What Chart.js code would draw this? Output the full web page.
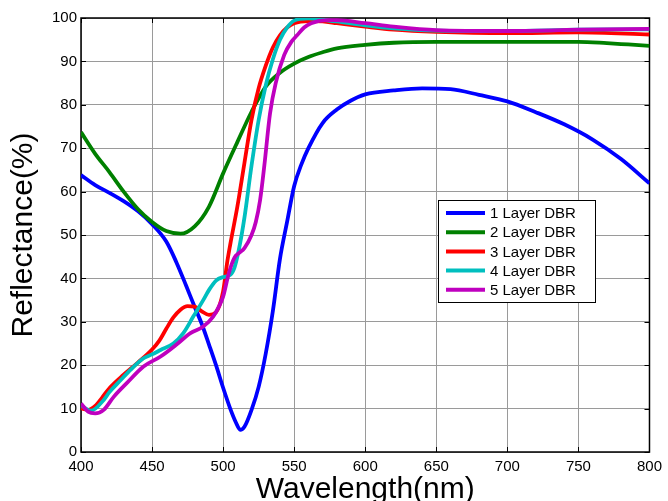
<!DOCTYPE html>
<html>
<head>
    <title>DBR Reflectance</title>
    <meta charset="utf-8">
    <script src="https://cdn.jsdelivr.net/npm/chart.js"></script>
    <style>
        html, body { margin: 0; padding: 0; background: #fff; }
        #box { width: 668px; height: 501px; }
    </style>
</head>
<body>
    <div id="box"><canvas id="dbrChart"></canvas></div>
    <script>
        // wavelength (nm) / reflectance (%)
        var wl1 = [400, 410, 420, 430, 440, 450, 460, 467, 474, 480, 485, 490, 495, 500, 505, 509, 512, 515, 520, 525, 530, 535, 540, 545, 550, 555, 560, 570, 580, 590, 600, 620, 640, 660, 680, 700, 720, 740, 760, 780, 800]
        var r1 = [63.8, 61.5, 59.7, 57.8, 55.5, 52.5, 48.5, 43.8, 38.3, 33.4, 29.5, 24.8, 20, 14.8, 10, 6.8, 5.1, 5.8, 9.7, 15, 22.7, 32.5, 44.5, 53, 61.3, 66.2, 70, 75.8, 78.9, 81, 82.4, 83.3, 83.8, 83.6, 82.3, 80.8, 78.3, 75.5, 72, 67.5, 61.9]

        var wl2 = [400, 410, 420, 430, 440, 450, 460, 470, 480, 490, 500, 510, 520, 530, 540, 550, 560, 570, 580, 600, 620, 650, 700, 750, 770, 785, 800]
        var r2 = [73.7, 68.7, 64.5, 60, 56, 53, 50.9, 50.3, 52, 56.5, 64.2, 71.4, 78.4, 84.2, 87.4, 89.5, 91, 92.1, 93, 93.8, 94.3, 94.5, 94.5, 94.5, 94.2, 93.9, 93.6]

        var wl3 = [400, 405, 410, 415, 420, 430, 440, 450, 455, 460, 465, 470, 475, 480, 485, 490, 495, 500, 503, 505, 510, 515, 520, 525, 530, 535, 540, 545, 550, 560, 570, 580, 600, 620, 650, 700, 750, 800]
        var r3 = [10.1, 9.7, 10.6, 12.6, 14.7, 17.8, 20.6, 23.6, 25.6, 28.4, 31, 32.8, 33.6, 33.5, 32.4, 31.6, 32.2, 37, 44, 47.8, 56.5, 66.6, 76.6, 83.8, 89, 93.2, 96, 97.8, 98.8, 99.3, 99.2, 98.8, 98, 97.3, 96.8, 96.5, 96.7, 96.2]

        var wl4 = [400, 407, 416, 420, 428, 435, 444, 450, 456, 465, 472, 479, 486, 490, 495, 500, 505, 508, 511, 515, 520, 525, 530, 535, 540, 545, 550, 560, 570, 580, 600, 620, 650, 700, 750, 800]
        var r4 = [10.8, 9.5, 12, 13.8, 16.6, 19, 21.6, 22.5, 23.5, 25, 27.4, 31.2, 35, 37.3, 39.5, 40.3, 40.8, 42.5, 46.5, 54, 66, 76.5, 84.5, 90.5, 95, 97.8, 99.4, 99.9, 99.6, 99.2, 98.3, 97.6, 97.1, 97, 97.3, 97.4]

        var wl5 = [400, 405, 410, 416, 423, 432, 444, 456, 467, 477, 486, 493, 497, 500, 504, 508, 511, 515, 520, 523, 526, 529, 533, 537, 543, 548, 552, 557, 562, 573, 580, 600, 620, 650, 700, 750, 800]
        var r5 = [11.2, 9.3, 8.9, 9.7, 12.7, 15.8, 19.7, 22, 24.7, 27.4, 28.9, 31.2, 33.5, 35.8, 41.2, 44.8, 45.8, 47, 50, 53, 58, 66, 78, 85, 91.5, 94.5, 96, 97.8, 98.8, 99.5, 99.5, 98.8, 98, 97.2, 97, 97.3, 97.5]

        var seriesNames = ['1 Layer DBR', '2 Layer DBR', '3 Layer DBR', '4 Layer DBR', '5 Layer DBR']
        var seriesColors = ['#0000ff', '#008000', '#ff0000', '#00bfbf', '#bf00bf']
        var xTicks = [400, 450, 500, 550, 600, 650, 700, 750, 800]
        var yTicks = [0, 10, 20, 30, 40, 50, 60, 70, 80, 90, 100]

        var allX = [wl1, wl2, wl3, wl4, wl5]
        var allY = [r1, r2, r3, r4, r5]

        var datasets = []
        for (let i = 0; i < 5; i++) {
            datasets.push({
                label: seriesNames[i],
                data: allX[i].map((x, k) => ({ x: x, y: allY[i][k] })),
                borderColor: seriesColors[i],
                backgroundColor: seriesColors[i],
                borderWidth: 3.8,
                pointRadius: 0,
                cubicInterpolationMode: 'monotone',
                order: 5 - i
            })
        }

        var font = "'Liberation Sans', Arial, sans-serif"

        // box around the plot + small inward ticks, MATLAB style
        const framePlugin = {
            id: 'frame',
            beforeDatasetsDraw(chart) {
                const { ctx, chartArea: a, scales: { x, y } } = chart
                ctx.save()
                ctx.strokeStyle = '#000'
                ctx.lineWidth = 1
                ctx.beginPath()
                xTicks.forEach(v => {
                    const px = Math.round(x.getPixelForValue(v)) + 0.5
                    ctx.moveTo(px, a.bottom); ctx.lineTo(px, a.bottom - 5)
                    ctx.moveTo(px, a.top); ctx.lineTo(px, a.top + 5)
                })
                yTicks.forEach(v => {
                    const py = Math.round(y.getPixelForValue(v)) + 0.5
                    ctx.moveTo(a.left, py); ctx.lineTo(a.left + 5, py)
                    ctx.moveTo(a.right, py); ctx.lineTo(a.right - 5, py)
                })
                ctx.stroke()
                ctx.lineWidth = 1.5
                ctx.strokeRect(a.left, a.top, a.right - a.left, a.bottom - a.top)
                ctx.restore()
            }
        }

        // legend box inside the plot
        const boxLegend = {
            id: 'boxLegend',
            afterDraw(chart) {
                const { ctx, chartArea: a } = chart
                const left = a.left + 357, top = a.top + 182, w = 157, h = 102
                ctx.save()
                ctx.fillStyle = '#fff'
                ctx.fillRect(left, top, w, h)
                ctx.strokeStyle = '#000'
                ctx.lineWidth = 1
                ctx.strokeRect(left + 0.5, top + 0.5, w, h)
                ctx.font = '15px ' + font
                ctx.textBaseline = 'middle'
                chart.data.datasets.forEach((ds, i) => {
                    const yy = top + 13 + i * 19.2
                    ctx.strokeStyle = ds.borderColor
                    ctx.lineWidth = 4
                    ctx.beginPath()
                    ctx.moveTo(left + 8, yy)
                    ctx.lineTo(left + 47, yy)
                    ctx.stroke()
                    ctx.fillStyle = '#000'
                    ctx.fillText(ds.label, left + 52, yy + 1)
                })
                ctx.restore()
            }
        }

        new Chart(document.getElementById('dbrChart'), {
            type: 'line',
            data: { datasets: datasets },
            plugins: [framePlugin, boxLegend],
            options: {
                responsive: true,
                maintainAspectRatio: false,
                animation: false,
                layout: { padding: { top: 18, right: 13, left: 0, bottom: 0 } },
                plugins: {
                    legend: { display: false },
                    tooltip: { enabled: false }
                },
                scales: {
                    x: {
                        type: 'linear',
                        min: 400,
                        max: 800,
                        afterBuildTicks: (s) => { s.ticks = xTicks.map(v => ({ value: v })) },
                        afterFit: (s) => { s.height = 49 },
                        ticks: { color: '#000', font: { size: 15, family: font }, padding: 6, maxRotation: 0 },
                        grid: { color: '#9a9a9a', lineWidth: 1, drawTicks: false },
                        border: { display: false },
                        title: {
                            display: true,
                            text: 'Wavelength(nm)',
                            color: '#000',
                            font: { size: 30, family: font },
                            padding: { top: 0, bottom: -7 }
                        }
                    },
                    y: {
                        min: 0,
                        max: 100,
                        afterBuildTicks: (s) => { s.ticks = yTicks.map(v => ({ value: v })) },
                        afterFit: (s) => { s.width = 81 },
                        ticks: { color: '#000', font: { size: 15, family: font }, padding: 4 },
                        grid: { color: '#9a9a9a', lineWidth: 1, drawTicks: false },
                        border: { display: false },
                        title: {
                            display: true,
                            text: 'Reflectance(%)',
                            color: '#000',
                            font: { size: 30, family: font },
                            padding: { top: 6, bottom: 0 }
                        }
                    }
                }
            }
        });
    </script>
</body>
</html>
